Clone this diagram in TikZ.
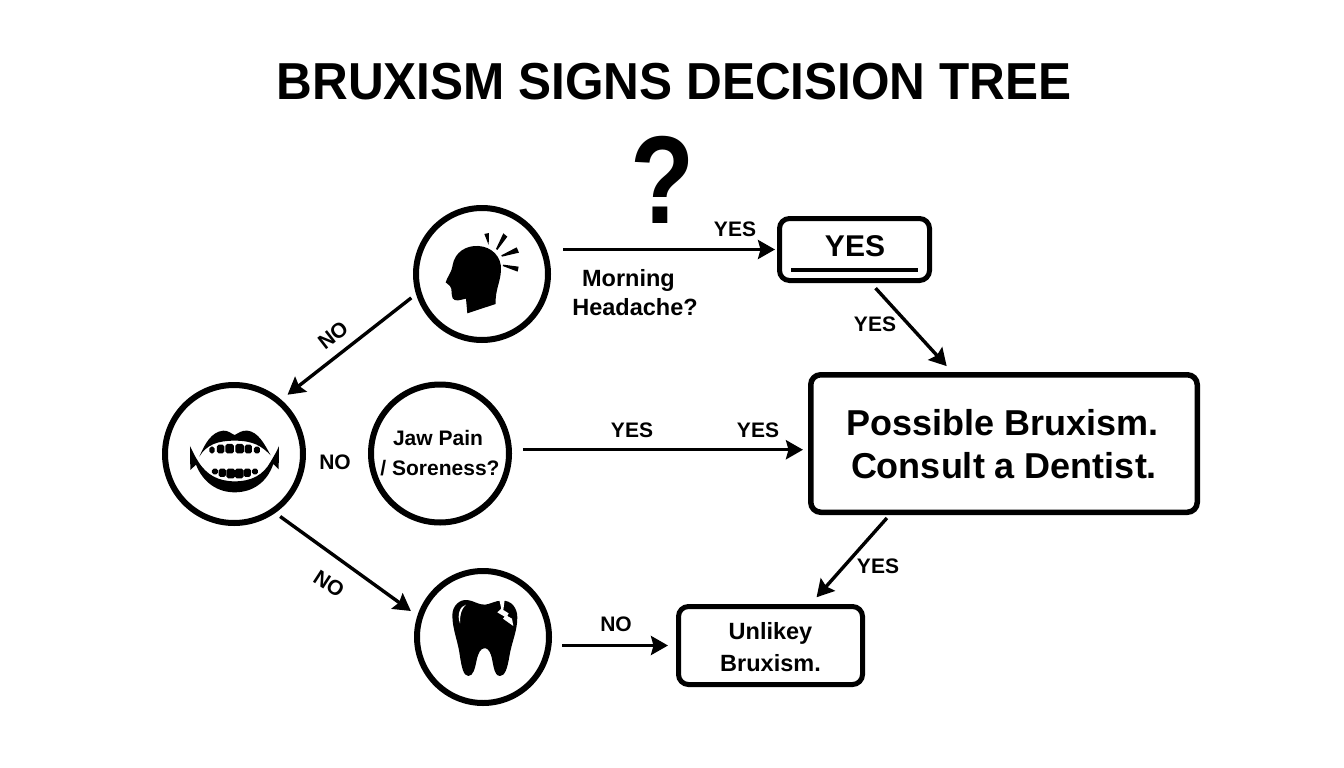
\documentclass[tikz,border=0pt]{standalone}
\usepackage{fontspec}
\setmainfont{Liberation Sans}
\usetikzlibrary{arrows.meta}
\tikzset{
  ring/.style={circle,draw=black,line width=6pt,minimum size=132pt,inner sep=0pt},
  panel/.style={rectangle,draw=black,line width=5pt,rounded corners=10pt,inner sep=0pt,align=center},
  link/.style={line width=3.4pt,draw=black,-{Stealth[length=17pt,width=19pt,inset=2.5pt]}},
  lab/.style={inner sep=0pt,font=\fontsize{21}{25}\selectfont\bfseries,text=black},
  ink/.style={fill=black,draw=none}
}
\begin{document}
\begin{tikzpicture}[x=1pt,y=-1pt]
\useasboundingbox (0,0) rectangle (1344,768);
\fill[white] (0,0) rectangle (1344,768);

\node[inner sep=0pt,xscale=.952,font=\fontsize{52}{60}\selectfont\bfseries] (title) at (674,82) {BRUXISM SIGNS DECISION TREE};
\node[inner sep=0pt,xscale=.84,font=\fontsize{125}{130}\selectfont\bfseries] (qmark) at (662.5,180) {?};

\node[ring] (head) at (482,274) {};
\node[ring,minimum size=138pt] (mouth) at (234,454) {};
\node[ring,minimum size=138pt,align=center,font=\fontsize{21}{30}\selectfont\bfseries] (jaw) at (440,453.5) {Jaw Pain\kern4pt\\/ Soreness?};
\node[ring] (tooth) at (483,637) {};

\node[panel,minimum width=150pt,minimum height=62pt] (yes) at (854.5,249.5) {};
\node[inner sep=0pt,font=\fontsize{30}{34}\selectfont\bfseries] (yestext) at (855,246) {YES};
\draw[line width=4.5pt] (791,270) -- (918,270);
\node[panel,line width=5.5pt,minimum width=386.5pt,minimum height=137.5pt,font=\fontsize{36}{43}\selectfont\bfseries] (possible) at (1004,443.5) {\rule{0pt}{27pt}Possible Bruxism.\kern3pt\\Consult a Dentist.};
\node[panel,minimum width=184pt,minimum height=78pt,font=\fontsize{23.5}{32}\selectfont\bfseries] (unlikely) at (770.5,645.5) {\rule{0pt}{21pt}Unlikey\\Bruxism.};

\node[inner sep=0pt,align=center,font=\fontsize{23.5}{29}\selectfont\bfseries] (morning) at (635,293) {Morning\kern13pt\\Headache?};

% connectors
\draw[link,shorten <=12pt,shorten >=2pt] (head.east |- yes.west) -- (yes.west);
\draw[link,shorten <=6pt,shorten >=8pt] (head.197) -- (mouth.49);
\draw[link,shorten <=6pt,shorten >=8pt] (mouth.-55.5) -- (tooth.162);
\draw[link,shorten <=11pt,shorten >=5pt] (jaw.3) -- (jaw.3 -| possible.west);
\draw[link,shorten <=10pt,shorten >=8pt] (tooth.east |- unlikely.west) -- (unlikely.west);
\draw[link,shorten <=7pt,shorten >=8pt] (yes.-64.6) -- (possible.126.3);
\draw[link,shorten <=4pt,shorten >=9pt] (possible.212.3) -- (unlikely.46.7);

% labels
\node[lab] (l1) at (735,229) {YES};
\node[lab] (l2) at (875,324) {YES};
\node[lab] (l3) at (632,430) {YES};
\node[lab] (l4) at (758,430) {YES};
\node[lab] (l5) at (878,566) {YES};
\node[lab,rotate=38] (n1) at (333,335) {NO};
\node[lab] (n2) at (335,462) {NO};
\node[lab,rotate=-33] (n3) at (329,584) {NO};
\node[lab] (n4) at (616,624) {NO};

% head icon
\begin{scope}[shift={(410,130)},x=.3333pt,y=-.3333pt]
\fill[black] (172,550) -- (168,506) .. controls (150,510) and (135,516) .. (128,505)
  .. controls (122,490) and (128,478) .. (120,468) -- (107,457)
  .. controls (112,440) and (125,428) .. (128,405)
  .. controls (135,365) and (170,346) .. (205,348)
  .. controls (245,350) and (275,380) .. (273,420)
  .. controls (272,455) and (255,480) .. (257,522) -- cycle;
\fill[black] (223,312) -- (237,309) -- (236,345) -- cycle;
\fill[black] (280,310) -- (292,320) -- (262,360) -- (258,357) -- cycle;
\fill[black] (320,352) -- (327,368) -- (276,380) -- (274,376) -- cycle;
\fill[black] (326,410) -- (323,425) -- (278,408) -- (280,404) -- cycle;
\end{scope}

% mouth icon
\begin{scope}[shift={(160,380)},x=.3333pt,y=-.3333pt]
\fill[black] (118,230) .. controls (135,190) and (155,155) .. (190,152)
  .. controls (205,151) and (215,162) .. (224,165)
  .. controls (235,160) and (245,150) .. (262,152)
  .. controls (295,155) and (315,195) .. (332,226)
  .. controls (305,198) and (280,182) .. (224,182)
  .. controls (175,182) and (140,193) .. cycle;
\fill[black] (90,198) .. controls (98,215) and (104,228) .. (115,245)
  .. controls (140,285) and (175,304) .. (224,304)
  .. controls (275,304) and (310,285) .. (332,245)
  .. controls (342,228) and (350,215) .. (357,198)
  -- (356,268) -- (340,252)
  .. controls (320,310) and (275,337) .. (224,337)
  .. controls (175,337) and (130,310) .. (108,254)
  -- (91,270) -- cycle;
\foreach \tx/\tw/\ty in {156/8/200,182/11/194,209/13/192,239/13/192,265/11/194,291/9/200}
  \fill[black,rounded corners=1.8pt] (\tx-\tw,\ty) -- (\tx+\tw,\ty) -- (\tx+\tw,220) -- (\tx-\tw,220) -- cycle;
\foreach \tx/\tw/\ty in {165/9/283,187/11/291,212/13/295,238/13/295,262/11/291,285/9/283}
  \fill[black,rounded corners=1.8pt] (\tx-\tw,266) -- (\tx+\tw,266) -- (\tx+\tw,\ty) -- (\tx-\tw,\ty) -- cycle;
\end{scope}

% tooth icon
\begin{scope}[shift={(410,560)},x=.3333pt,y=-.3333pt]
\fill[black] (127,165) .. controls (128,135) and (150,118) .. (172,120)
  .. controls (192,122) and (205,135) .. (225,134)
  .. controls (240,133) and (255,122) .. (275,122)
  .. controls (305,120) and (322,145) .. (322,172)
  .. controls (322,215) and (305,245) .. (298,290)
  .. controls (292,325) and (285,348) .. (270,348)
  .. controls (250,348) and (250,305) .. (243,285)
  .. controls (238,270) and (230,263) .. (222,265)
  .. controls (212,266) and (205,278) .. (200,300)
  .. controls (195,325) and (190,348) .. (175,348)
  .. controls (160,348) and (155,320) .. (150,290)
  .. controls (145,245) and (127,210) .. cycle;
\fill[white] (168,134) .. controls (150,138) and (140,165) .. (150,190)
  .. controls (150,165) and (152,150) .. cycle;
\fill[white] (268,120) -- (274,146) -- (262,157) -- (284,170) -- (279,176) -- (310,198)
  -- (306,176) -- (292,168) -- (296,160) -- (280,150) -- (284,120) -- cycle;
\end{scope}
\end{tikzpicture}
\end{document}
